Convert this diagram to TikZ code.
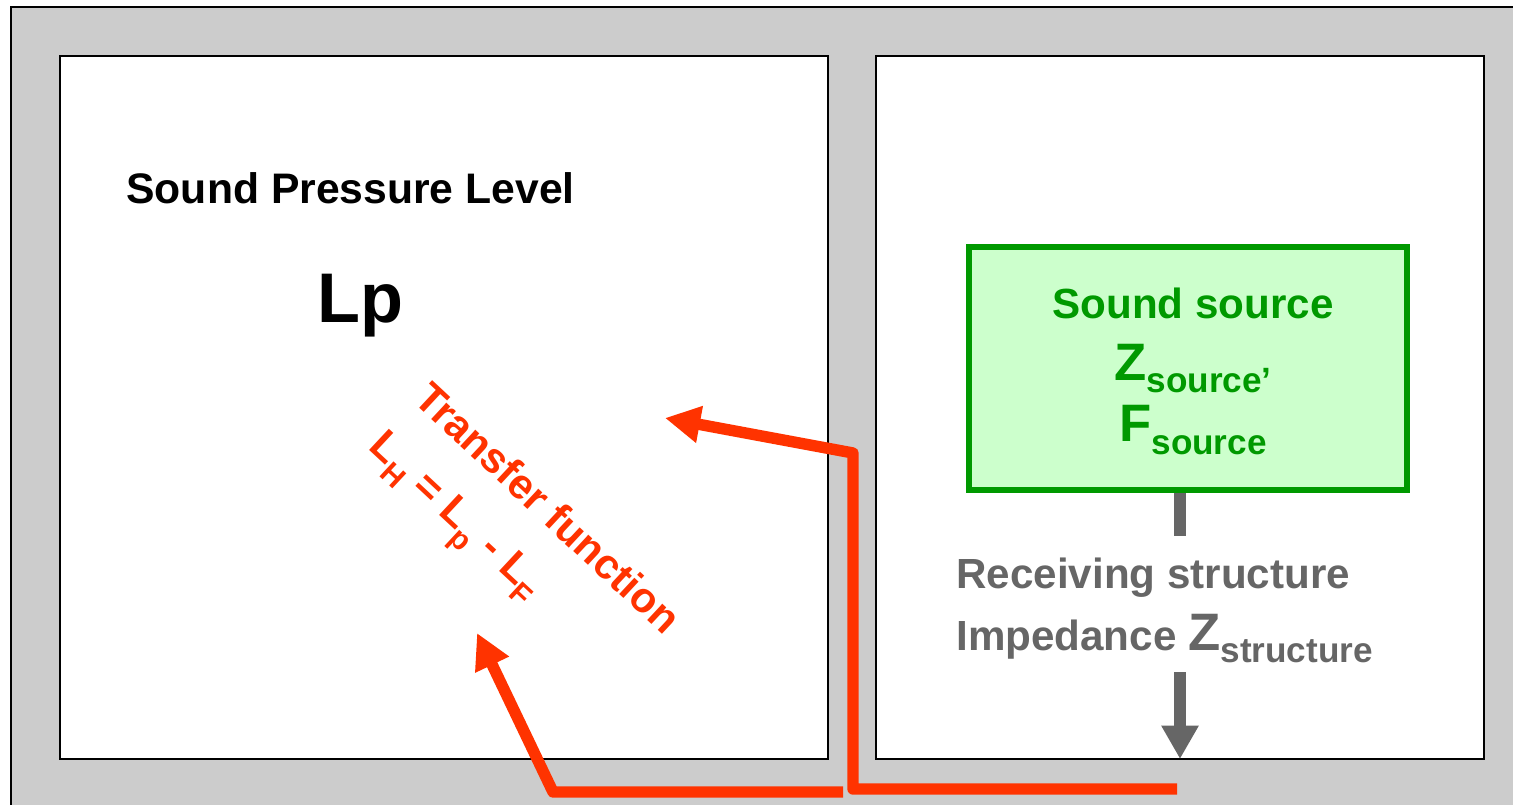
\documentclass[tikz,border=0pt]{standalone}
\usepackage{fontspec}
\setmainfont{Liberation Sans}
\usetikzlibrary{arrows.meta}
\definecolor{wallgray}{HTML}{CCCCCC}
\definecolor{pathred}{HTML}{FF3300}
\definecolor{srcgreen}{HTML}{009900}
\definecolor{srcfill}{HTML}{CCFFCC}
\definecolor{txtgray}{HTML}{666666}
\newcommand{\lowsub}[2][20]{\raisebox{-7pt}{\fontsize{#1}{#1}\selectfont #2}}
\newcommand{\bigz}[1]{{\fontsize{30}{30}\selectfont #1}}
\begin{document}
\begin{tikzpicture}[x=0.02cm,y=-0.02cm,font=\bfseries,
    room/.style={draw=black,line width=1pt,fill=white},
    label/.style={inner sep=0pt,anchor=base west},
    srcbox/.style={draw=srcgreen,line width=3.4pt,fill=srcfill,minimum width=8.76cm,minimum height=4.86cm},
    srctext/.style={text=srcgreen,align=center,font=\bfseries\fontsize{24}{35}\selectfont},
    redpath/.style={draw=pathred,line width=6.5pt,line join=round,-{Triangle[length=20pt,width=20pt]}},
    grayline/.style={draw=txtgray,line width=6.5pt}]
    \clip (0,0) rectangle (1513,804);
    \draw[fill=wallgray,line width=1pt] (11,7) rectangle (1540,840);
    \draw[room] (60,56) rectangle (828,759);
    \draw[room] (876,56) rectangle (1484,759);
    \node[label,font=\bfseries\fontsize{24.3}{24}\selectfont](spl) at (126,203) {Sound Pressure Level};
    \node[label,font=\bfseries\fontsize{40}{40}\selectfont](lp) at (317,322) {Lp};
    \node[srcbox](src) at (1188,368.5) {};
    \node[srctext](srcname) at ([xshift=0.1cm,yshift=-0.06cm]src.center) {Sound source\\\bigz{Z}\lowsub{source’}\\\bigz{F}\lowsub{source}};
    \node[label,text=txtgray,font=\bfseries\fontsize{24}{24}\selectfont](recv) at (956,588) {Receiving structure};
    \node[label,text=txtgray,font=\bfseries\fontsize{24}{24}\selectfont](imp) at (956,650) {Impedance \bigz{Z}\lowsub{structure}};
    \node[text=pathred,rotate=-43,align=left,font=\bfseries\fontsize{24}{37}\selectfont](tf) at (520,538)
        {Transfer function\\L\lowsub[17]{H} = L\lowsub[17]{p} - L\lowsub[17]{F}};
    \coordinate(stem) at (1180,536);
    \coordinate(astart) at (1180,672);
    \coordinate(floor) at (1180,759);
    \draw[grayline] (src.south -| stem)--(stem);
    \draw[grayline,-{Triangle[length=19pt,width=20pt]}] (astart)--(floor);
    \coordinate(ra) at (1177,789);
    \coordinate(rb) at (853,789);
    \coordinate(rc) at (853,453);
    \coordinate(tipa) at (665,418);
    \draw[redpath] (ra)--(rb)--(rc)--(tipa);
    \coordinate(rd) at (843,792);
    \coordinate(re) at (553,792);
    \coordinate(tipb) at (477,633);
    \draw[redpath] (rd)--(re)--(tipb);
\end{tikzpicture}
\end{document}
